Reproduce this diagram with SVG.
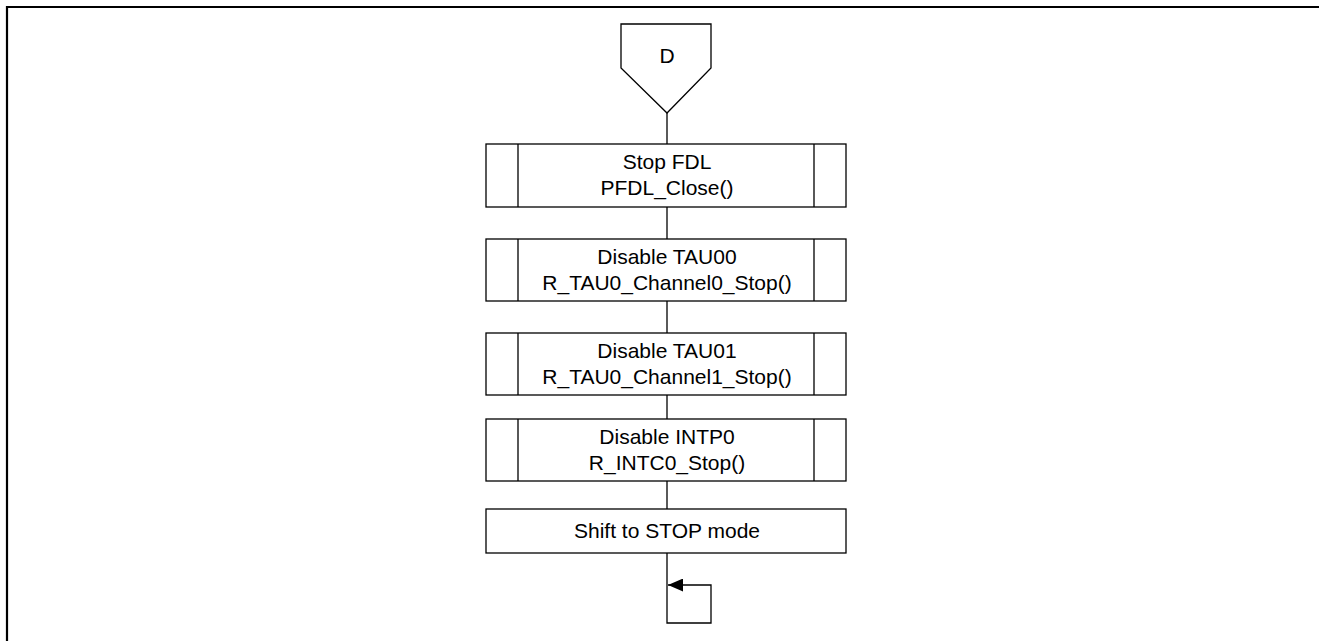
<svg xmlns="http://www.w3.org/2000/svg" width="1319" height="641" viewBox="0 0 1319 641">
<style>
.s{fill:#fff;stroke:#000;stroke-width:1.3}
.l{fill:none;stroke:#000;stroke-width:1.3}
.t{font-family:"Liberation Sans",Arial,sans-serif;font-size:21px;fill:#000;text-anchor:middle}
</style>
<defs>
<marker id="ah" markerWidth="15" markerHeight="13" refX="15" refY="6.5" orient="auto" markerUnits="userSpaceOnUse">
<path d="M0,0 L15,6.5 L0,13 Z" fill="#000"/>
</marker>
</defs>
<rect width="1319" height="641" fill="#fff"/>
<path d="M7,641 V7 H1319" fill="none" stroke="#000" stroke-width="2.2"/>
<g id="connectors">
<path class="l" d="M667,113 V144"/>
<path class="l" d="M667,207 V239"/>
<path class="l" d="M667,301 V333"/>
<path class="l" d="M667,395 V419"/>
<path class="l" d="M667,481 V509"/>
<path class="l" d="M667,553 V623 H711 V585 H668" marker-end="url(#ah)"/>
</g>
<g id="node-D">
<path class="s" d="M621,24 H711 V68 L667,113 L621,68 Z"/>
<text class="t" x="667" y="63" font-size="18">D</text>
</g>
<g id="node-stop-fdl">
<rect class="s" x="486" y="144" width="360" height="63"/>
<path class="l" d="M518,144 V207 M814,144 V207"/>
<text class="t" x="667" y="169">Stop FDL</text>
<text class="t" x="667" y="195">PFDL_Close()</text>
</g>
<g id="node-tau00">
<rect class="s" x="486" y="239" width="360" height="62"/>
<path class="l" d="M518,239 V301 M814,239 V301"/>
<text class="t" x="667" y="264">Disable TAU00</text>
<text class="t" x="667" y="290">R_TAU0_Channel0_Stop()</text>
</g>
<g id="node-tau01">
<rect class="s" x="486" y="333" width="360" height="62"/>
<path class="l" d="M518,333 V395 M814,333 V395"/>
<text class="t" x="667" y="358">Disable TAU01</text>
<text class="t" x="667" y="384">R_TAU0_Channel1_Stop()</text>
</g>
<g id="node-intp0">
<rect class="s" x="486" y="419" width="360" height="62"/>
<path class="l" d="M518,419 V481 M814,419 V481"/>
<text class="t" x="667" y="444">Disable INTP0</text>
<text class="t" x="667" y="470">R_INTC0_Stop()</text>
</g>
<g id="node-stop-mode">
<rect class="s" x="486" y="509" width="360" height="44"/>
<text class="t" x="667" y="538">Shift to STOP mode</text>
</g>
</svg>
